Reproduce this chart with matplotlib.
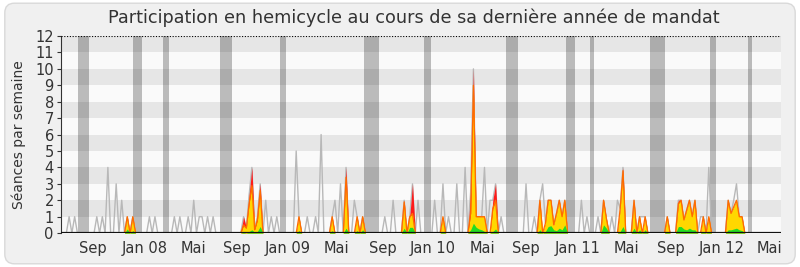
import numpy as np
import matplotlib
matplotlib.use("Agg")
import matplotlib.pyplot as plt
from matplotlib.patches import FancyBboxPatch

# weeks since start of mandate (0..260)
n_weeks = 260

# grey line: total sessions in the week (only weeks without own activity)
gray_weeks = [3, 5, 13, 15, 17, 20, 22, 32, 34, 41, 43, 46, 48, 50, 51, 53, 55,
              74, 76, 78, 85, 89, 92, 94, 99, 101, 106, 117, 120, 129, 135, 138,
              140, 143, 146, 153, 155, 159, 168, 171, 174, 188, 190, 194, 199,
              201, 210, 231, 234, 243, 244]
gray_vals = [1, 1, 1, 1, 4, 3, 2, 1, 1, 1, 1, 1, 2, 1, 1, 1, 1,
             2, 1, 1, 5, 1, 1, 6, 2, 3, 2, 1, 2, 2, 2, 3,
             1, 3, 4, 4, 2, 1, 3, 1, 3, 2, 1, 1, 1,
             2, 1, 1, 4, 2, 3]

# coloured areas: presence (red), participation (yellow/orange), interventions (green)
act_weeks = [24, 26, 66, 67, 68, 69, 70, 71, 72, 86, 98, 103, 107, 109,
             124, 126, 127, 138, 148, 149, 150, 151, 152, 153, 156, 157,
             173, 175, 176, 177, 178, 179, 180, 181, 182,
             196, 197, 202, 203, 207, 209, 211,
             219, 223, 224, 225, 226, 227, 228, 229, 232, 234,
             241, 242, 243, 244, 245, 246]
red_vals = [1, 1, 1, 0.3, 2.3, 4, 0.3, 1, 3, 1, 1, 4, 1, 1,
            2, 1, 3, 1, 2.5, 10, 1, 1, 1, 1, 2, 3,
            2, 0.6, 2, 2, 0.5, 1.2, 2, 1, 2,
            2, 0.9, 1.5, 4, 2, 1, 1,
            1, 2, 2, 0.8, 1.4, 2, 1, 2, 1, 1,
            2, 1.2, 1.6, 2, 1, 1]
yellow_vals = [1, 1, 0.5, 0.3, 1.8, 2.9, 0.2, 0.8, 2.6, 1, 1, 3.4, 1, 1,
               1.9, 1, 1.2, 1, 1.2, 9, 1, 1, 1, 1, 1.5, 2,
               2, 0.6, 2, 2, 0.5, 1.2, 2, 1, 2,
               2, 0.9, 1.5, 3.8, 2, 1, 1,
               1, 1.8, 2, 0.8, 1.4, 2, 1, 2, 1, 1,
               2, 1.2, 1.6, 2, 1, 1]
green_vals = [0.25, 0.15, 0.05, 0, 0.1, 0.2, 0.05, 0.1, 0.4, 0.15, 0.15, 0.3, 0.15, 0.2,
              0.3, 0.35, 0.35, 0.1, 0.2, 0.6, 0.35, 0.25, 0.2, 0.1, 0.1, 0.25,
              0.2, 0.1, 0.4, 0.45, 0.2, 0.15, 0.3, 0.2, 0.5,
              0.5, 0.3, 0.1, 0.4, 0.3, 0.2, 0.2,
              0.1, 0.4, 0.4, 0.25, 0.2, 0.3, 0.2, 0.2, 0.1, 0.1,
              0.2, 0.2, 0.25, 0.3, 0.2, 0.15]

# parliamentary holidays (start week, end week)
holidays = [(6.1, 10.1), (26.0, 29.3), (36.8, 39.0), (57.4, 61.8), (79.1, 81.3),
            (109.4, 114.8), (131.1, 133.6), (160.7, 165.0), (182.4, 185.6),
            (191.0, 192.5), (212.7, 218.1), (234.4, 236.5), (248.1, 249.5)]

month_pos = [11.6, 30.3, 47.8, 63.7, 82.1, 99.7, 116.3, 134.4, 152.2, 167.8,
             186.5, 204.3, 220.2, 238.5, 256.0]
month_labels = ["Sep", "Jan 08", "Mai", "Sep", "Jan 09", "Mai", "Sep", "Jan 10",
                "Mai", "Sep", "Jan 11", "Mai", "Sep", "Jan 12", "Mai"]

weeks = np.arange(n_weeks + 1)
red = np.zeros(n_weeks + 1)
yellow = np.zeros(n_weeks + 1)
green = np.zeros(n_weeks + 1)
red[act_weeks] = red_vals
yellow[act_weeks] = yellow_vals
green[act_weeks] = green_vals
total = np.zeros(n_weeks + 1)
total[gray_weeks] = gray_vals
total = np.maximum(total, red)

fig = plt.figure(figsize=(8, 2.67), dpi=100)
fig.patch.set_facecolor("white")
frame = FancyBboxPatch((0.006, 0.012), 0.988, 0.976,
                       boxstyle="round,pad=0,rounding_size=0.012",
                       mutation_aspect=3, transform=fig.transFigure,
                       facecolor="#f0f0f0", edgecolor="#d9d9d9", lw=1, zorder=-5)
fig.patches.append(frame)

ax = fig.add_axes([0.076, 0.127, 0.9, 0.738])
ax.set_facecolor("#fafafa")
for lo in range(0, 12):
    ax.axhspan(lo, lo + 1, color="#e6e6e6" if lo % 2 == 1 else "#fafafa", lw=0, zorder=0)
for a, b in holidays:
    ax.axvspan(a, b, color="black", alpha=0.25, lw=0, zorder=1)

ax.plot(weeks, total, color="#b8b8b8", lw=1, zorder=2)
ax.fill_between(weeks, 0, red, color="#ff1a1a", lw=0, zorder=3)
ax.fill_between(weeks, 0, yellow, color="#ffd700", lw=0, zorder=4)
ax.plot(weeks, yellow, color="#ff6a00", lw=0.9, zorder=5)
ax.fill_between(weeks, 0, green, color="#22dd22", lw=0, zorder=6)

ax.axhline(12, color="black", lw=0.8, ls=(0, (1, 1.5)), zorder=7)
ax.axhline(0, color="#111111", lw=1.6, zorder=7)

ax.set_xlim(0, n_weeks)
ax.set_ylim(0, 12)
ax.set_yticks(range(0, 13))
ax.set_xticks(month_pos)
ax.set_xticklabels(month_labels)
ax.tick_params(axis="y", length=3, width=0.8, color="#333333", labelsize=10.5,
               labelcolor="#333333", pad=2)
ax.tick_params(axis="x", length=0, labelsize=10.5, labelcolor="#333333", pad=6)
for s in ["top", "right", "bottom"]:
    ax.spines[s].set_visible(False)
ax.spines["left"].set_color("#333333")
ax.spines["left"].set_linewidth(0.8)

fig.text(0.517, 0.935, "Participation en hemicycle au cours de sa dernière année de mandat",
         ha="center", va="center", fontsize=12.7, color="#333333")
fig.text(0.023, 0.496, "Séances par semaine", rotation=90, ha="center", va="center",
         fontsize=10, color="#333333")

fig.savefig("out.png", dpi=100, facecolor=fig.get_facecolor())
